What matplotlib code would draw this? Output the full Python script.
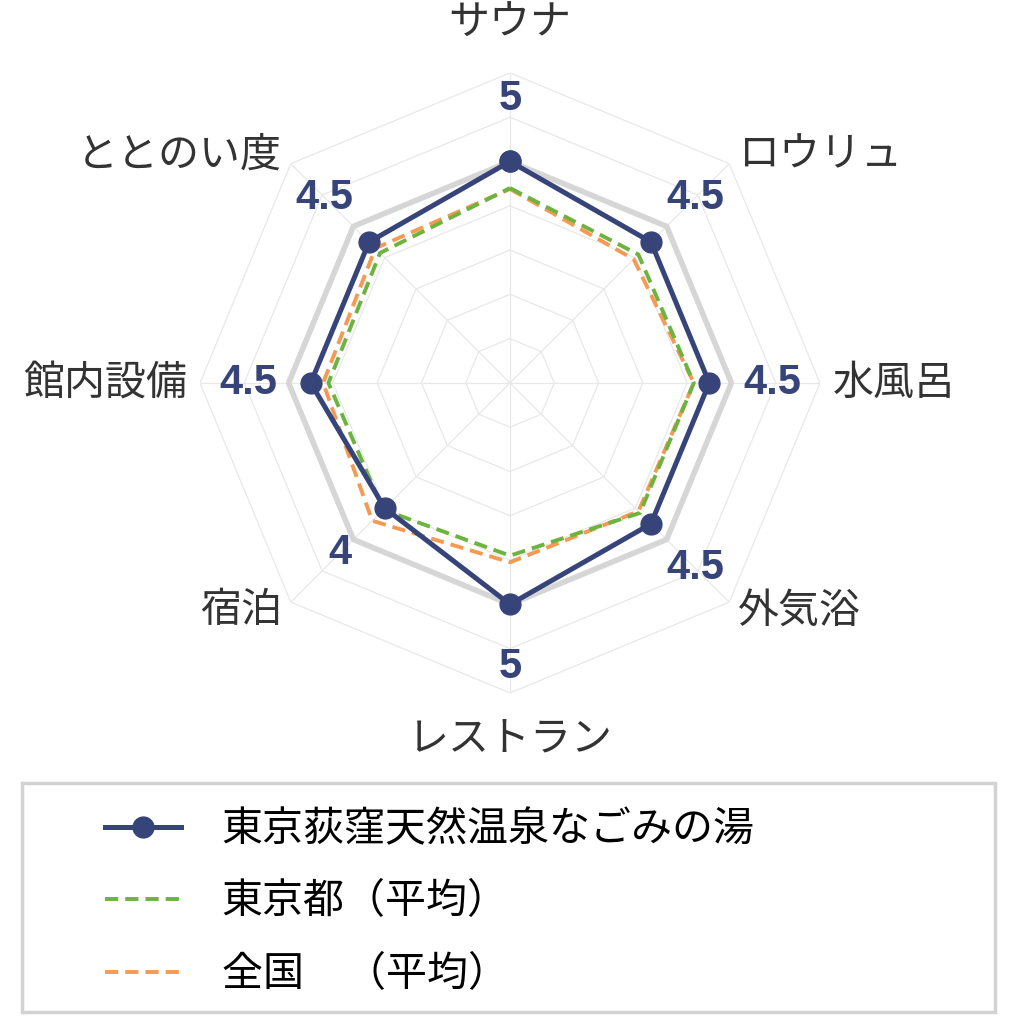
import numpy as np
import matplotlib.pyplot as plt
from matplotlib.patches import Rectangle
from matplotlib.lines import Line2D

plt.rcParams['font.family'] = ['Noto Sans CJK JP', 'DejaVu Sans']

# categories, clockwise from the top
categories = ["サウナ", "ロウリュ", "水風呂", "外気浴", "レストラン", "宿泊", "館内設備", "ととのい度"]

nagomi = [5.0, 4.5, 4.5, 4.5, 5.0, 4.0, 4.5, 4.5]
tokyo_avg = [4.4, 4.1, 4.15, 4.15, 3.9, 4.05, 4.1, 4.15]
japan_avg = [4.38, 3.95, 4.15, 4.1, 4.05, 4.4, 4.22, 4.3]

series_names = ["東京荻窪天然温泉なごみの湯", "東京都（平均）", "全国　（平均）"]

navy = "#36447a"
green = "#6db33f"
orange = "#f59a52"
dash = (0, (3.4, 1.8))

n = len(categories)
theta = np.arange(n) * 2 * np.pi / n
theta_closed = np.append(theta, theta[0])


def closed(vals):
    return np.append(vals, vals[0])


fig = plt.figure(figsize=(10.24, 10.24), dpi=100)
ax = fig.add_axes([0.1953, 0.3233, 0.6055, 0.6055], projection="polar")
ax.set_theta_offset(np.pi / 2)
ax.set_theta_direction(-1)
ax.set_ylim(0, 7)
ax.grid(False)
ax.spines["polar"].set_visible(False)
ax.set_xticks([])
ax.set_yticks([])

# octagonal grid
for r in range(1, 8):
    ax.plot(theta_closed, [r] * (n + 1), color="#e8e8e8", lw=0.9, zorder=1)
for t in theta:
    ax.plot([t, t], [0, 7], color="#e8e8e8", lw=0.9, zorder=1)
# max score ring
ax.plot(theta_closed, [5] * (n + 1), color="#d6d6d6", lw=4.0, zorder=2)

ax.plot(theta_closed, closed(japan_avg), color=orange, lw=2.8, ls=dash, zorder=3)
ax.plot(theta_closed, closed(tokyo_avg), color=green, lw=2.8, ls=dash, zorder=4)
ax.plot(theta_closed, closed(nagomi), color=navy, lw=3.6, marker="o", ms=15, zorder=5)

# value labels
for t, v in zip(theta, nagomi):
    ax.text(t, v + 1.42, f"{v:g}", color=navy, fontsize=30, fontweight="bold",
            family=["Liberation Sans", "DejaVu Sans"], ha="center", va="center", zorder=6)

# category labels
for t, lab in zip(theta, categories):
    s = np.sin(t)
    c = np.cos(t)
    if abs(s) < 0.1:
        ha = "center"
    elif s > 0:
        ha = "left"
    else:
        ha = "right"
    if c > 0.9:
        rr = 8.15
    elif c < -0.9:
        rr = 8.05
    else:
        rr = 7.28
    ax.text(t, rr, lab, fontsize=29.5, color="#333333", ha=ha, va="center")

# legend box
fig.patches.append(Rectangle((0.0215, 0.0117), 0.950, 0.2236, transform=fig.transFigure,
                             fill=False, edgecolor="#d2d2d2", lw=2.5))
handles = [
    Line2D([], [], color=navy, lw=3.6, marker="o", ms=15),
    Line2D([], [], color=green, lw=2.8, ls=dash),
    Line2D([], [], color=orange, lw=2.8, ls=dash),
]
fig.legend(handles, series_names, loc="upper left", bbox_to_anchor=(0.1025, 0.210),
           frameon=False, handlelength=1.85, handletextpad=1.0,
           labelspacing=0.77, borderaxespad=0, borderpad=0, prop={"size": 29.5})

fig.savefig("out.png", dpi=100, facecolor="white")
